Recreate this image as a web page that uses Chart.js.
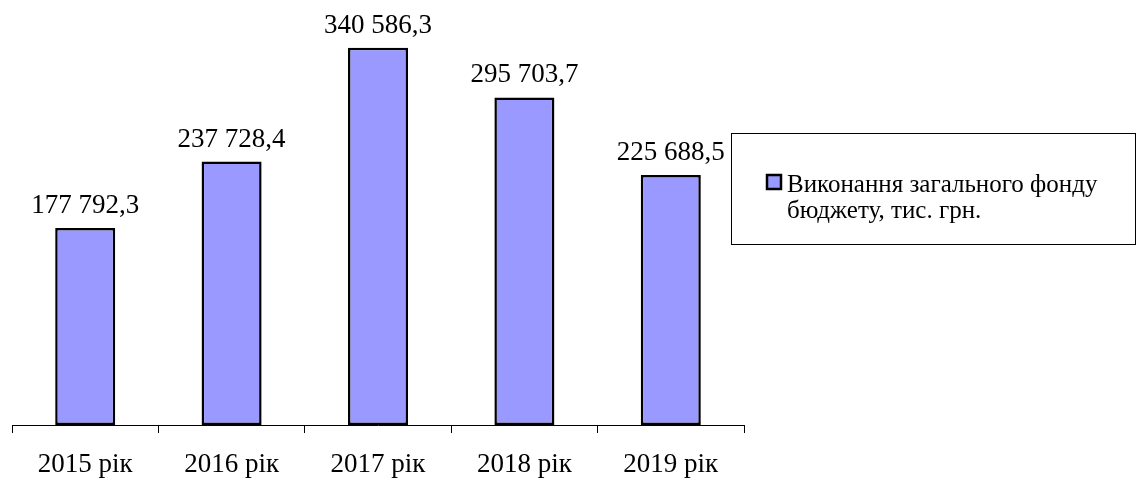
<!DOCTYPE html>
<html>
<head>
<meta charset="utf-8">
<script src="https://cdn.jsdelivr.net/npm/chart.js@4.4.1/dist/chart.umd.min.js"></script>
<style>
  html, body { margin: 0; padding: 0; background: #fff; }
  #wrap { width: 1139px; height: 483px; }
</style>
</head>
<body>
<div id="wrap"><canvas id="chart" width="1139" height="483"></canvas></div>
<script>
const years = ['2015 рік', '2016 рік', '2017 рік', '2018 рік', '2019 рік'];
const budget = [177792.3, 237728.4, 340586.3, 295703.7, 225688.5];
const seriesLabel = ['Виконання загального фонду', 'бюджету, тис. грн.'];

const FONT = '"Liberation Serif", "Times New Roman", serif';
const BAR_FILL = '#9999ff';

function fmt(v) {
  const parts = v.toFixed(1).split('.');
  const int = parts[0].replace(/\B(?=(\d{3})+(?!\d))/g, ' ');
  return int + ',' + parts[1];
}

// value labels above the bars
const valueLabels = {
  id: 'valueLabels',
  afterDatasetsDraw(chart) {
    const ctx = chart.ctx;
    const meta = chart.getDatasetMeta(0);
    ctx.save();
    ctx.font = '27px ' + FONT;
    ctx.fillStyle = '#000';
    ctx.textAlign = 'center';
    ctx.textBaseline = 'alphabetic';
    meta.data.forEach((bar, i) => {
      ctx.fillText(fmt(chart.data.datasets[0].data[i]), bar.x, bar.y - 15);
    });
    ctx.restore();
  }
};

// boxed legend on the right
const boxLegend = {
  id: 'boxLegend',
  afterDraw(chart) {
    const ctx = chart.ctx;
    const ds = chart.data.datasets[0];
    ctx.save();
    ctx.strokeStyle = '#000';
    ctx.lineWidth = 1;
    ctx.strokeRect(731.5, 133.5, 404, 111);
    ctx.fillStyle = ds.backgroundColor;
    ctx.fillRect(767, 175, 14, 14);
    ctx.lineWidth = 2.5;
    ctx.strokeRect(767, 175, 14, 14);
    ctx.fillStyle = '#000';
    ctx.font = '25px ' + FONT;
    ctx.textBaseline = 'alphabetic';
    ds.label.forEach((line, i) => ctx.fillText(line, 787, 192 + i * 26));
    ctx.restore();
  }
};

new Chart(document.getElementById('chart'), {
  type: 'bar',
  data: {
    labels: years,
    datasets: [{
      label: seriesLabel,
      data: budget,
      backgroundColor: BAR_FILL,
      borderColor: '#000',
      borderWidth: 2.5,
      borderSkipped: false,
      categoryPercentage: 1,
      barPercentage: 0.41
    }]
  },
  options: {
    responsive: false,
    animation: false,
    devicePixelRatio: 1,
    layout: { padding: { left: 12, right: 395, top: 4, bottom: 0 } },
    plugins: {
      legend: { display: false },
      tooltip: { enabled: false }
    },
    scales: {
      x: {
        afterFit(scale) { scale.height = 58; },
        grid: { display: true, drawOnChartArea: false, drawTicks: true, tickLength: 8, color: '#000', lineWidth: 1 },
        border: { display: true, color: '#000', width: 1 },
        ticks: { color: '#000', font: { family: FONT, size: 27 }, padding: 16, maxRotation: 0 }
      },
      y: {
        display: false,
        min: 0,
        max: 380000
      }
    }
  },
  plugins: [valueLabels, boxLegend]
});
</script>
</body>
</html>
